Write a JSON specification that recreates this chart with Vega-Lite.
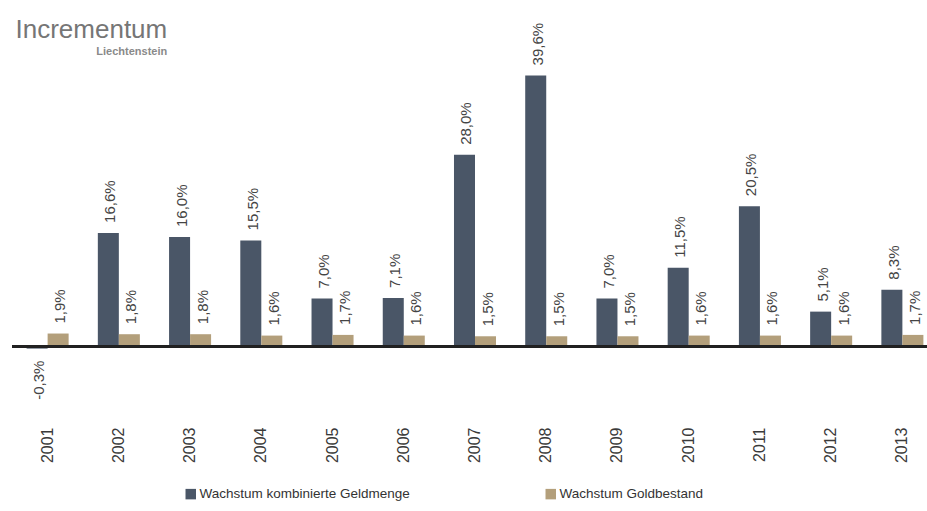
{
  "$schema": "https://vega.github.io/schema/vega-lite/v6.json",
  "autosize": "none",
  "width": 926,
  "height": 356,
  "padding": {"left": 12, "top": 59, "right": 0, "bottom": 96},
  "background": "white",
  "title": {
    "text": "Incrementum",
    "subtitle": "Liechtenstein",
    "anchor": "start",
    "align": "right",
    "dx": 156,
    "offset": -34,
    "font": "Liberation Sans",
    "fontSize": 26,
    "fontWeight": "normal",
    "color": "#767676",
    "subtitleFont": "Liberation Sans",
    "subtitleFontSize": 11,
    "subtitleFontWeight": "bold",
    "subtitleColor": "#8a8a8a",
    "subtitlePadding": 3
  },
  "data": {
    "values": [
      {"year": "2001", "series": "Wachstum kombinierte Geldmenge", "value": -0.3},
      {"year": "2002", "series": "Wachstum kombinierte Geldmenge", "value": 16.6},
      {"year": "2003", "series": "Wachstum kombinierte Geldmenge", "value": 16.0},
      {"year": "2004", "series": "Wachstum kombinierte Geldmenge", "value": 15.5},
      {"year": "2005", "series": "Wachstum kombinierte Geldmenge", "value": 7.0},
      {"year": "2006", "series": "Wachstum kombinierte Geldmenge", "value": 7.1},
      {"year": "2007", "series": "Wachstum kombinierte Geldmenge", "value": 28.0},
      {"year": "2008", "series": "Wachstum kombinierte Geldmenge", "value": 39.6},
      {"year": "2009", "series": "Wachstum kombinierte Geldmenge", "value": 7.0},
      {"year": "2010", "series": "Wachstum kombinierte Geldmenge", "value": 11.5},
      {"year": "2011", "series": "Wachstum kombinierte Geldmenge", "value": 20.5},
      {"year": "2012", "series": "Wachstum kombinierte Geldmenge", "value": 5.1},
      {"year": "2013", "series": "Wachstum kombinierte Geldmenge", "value": 8.3},
      {"year": "2001", "series": "Wachstum Goldbestand", "value": 1.9},
      {"year": "2002", "series": "Wachstum Goldbestand", "value": 1.8},
      {"year": "2003", "series": "Wachstum Goldbestand", "value": 1.8},
      {"year": "2004", "series": "Wachstum Goldbestand", "value": 1.6},
      {"year": "2005", "series": "Wachstum Goldbestand", "value": 1.7},
      {"year": "2006", "series": "Wachstum Goldbestand", "value": 1.6},
      {"year": "2007", "series": "Wachstum Goldbestand", "value": 1.5},
      {"year": "2008", "series": "Wachstum Goldbestand", "value": 1.5},
      {"year": "2009", "series": "Wachstum Goldbestand", "value": 1.5},
      {"year": "2010", "series": "Wachstum Goldbestand", "value": 1.6},
      {"year": "2011", "series": "Wachstum Goldbestand", "value": 1.6},
      {"year": "2012", "series": "Wachstum Goldbestand", "value": 1.6},
      {"year": "2013", "series": "Wachstum Goldbestand", "value": 1.7}
    ]
  },
  "transform": [
    {"calculate": "replace(replace(format(datum.value, '.1f'), '.', ','), '\u2212', '-') + '%'", "as": "label"}
  ],
  "encoding": {
    "x": {
      "field": "year",
      "type": "nominal",
      "scale": {"paddingInner": 0.41, "paddingOuter": 0.205},
      "axis": {
        "title": null,
        "domain": false,
        "ticks": false,
        "labelAngle": 270,
        "labelAlign": "right",
        "labelBaseline": "middle",
        "labelPadding": 12,
        "labelFont": "Liberation Sans",
        "labelFontSize": 16,
        "labelColor": "#3a3a3a"
      }
    },
    "xOffset": {
      "field": "series",
      "type": "nominal",
      "scale": {"domain": ["Wachstum kombinierte Geldmenge", "Wachstum Goldbestand"], "paddingInner": 0, "paddingOuter": 0}
    },
    "y": {
      "field": "value",
      "type": "quantitative",
      "scale": {"domain": [-10, 42], "nice": false, "zero": false},
      "axis": null
    }
  },
  "layer": [
    {
      "mark": {"type": "bar"},
      "encoding": {
        "y2": {"datum": 0},
        "color": {
          "field": "series",
          "type": "nominal",
          "scale": {"domain": ["Wachstum kombinierte Geldmenge", "Wachstum Goldbestand"], "range": ["#4a5667", "#b39f7b"]},
          "legend": {
            "title": null,
            "orient": "none",
            "direction": "horizontal",
            "legendX": 172,
            "legendY": 428,
            "symbolType": "square",
            "symbolSize": 110,
            "symbolStrokeWidth": 0,
            "labelFont": "Liberation Sans",
            "labelFontSize": 13.5,
            "labelColor": "#333333",
            "labelOffset": 2,
            "labelLimit": 0,
            "columnPadding": 134
          }
        }
      }
    },
    {
      "transform": [{"filter": "datum.value >= 0"}],
      "mark": {"type": "text", "angle": 270, "align": "left", "baseline": "middle", "dx": 10, "dy": 2, "font": "Liberation Sans", "fontSize": 15, "color": "#444444"},
      "encoding": {"text": {"field": "label"}}
    },
    {
      "transform": [{"filter": "datum.value < 0"}],
      "mark": {"type": "text", "angle": 270, "align": "right", "baseline": "middle", "dx": -12, "dy": 2, "font": "Liberation Sans", "fontSize": 15, "color": "#444444"},
      "encoding": {"text": {"field": "label"}}
    },
    {
      "mark": {"type": "rule", "color": "#222222", "strokeWidth": 1.5},
      "encoding": {"y": {"datum": 0}, "x": null, "xOffset": null}
    }
  ],
  "config": {
    "view": {"stroke": null}
  }
}
